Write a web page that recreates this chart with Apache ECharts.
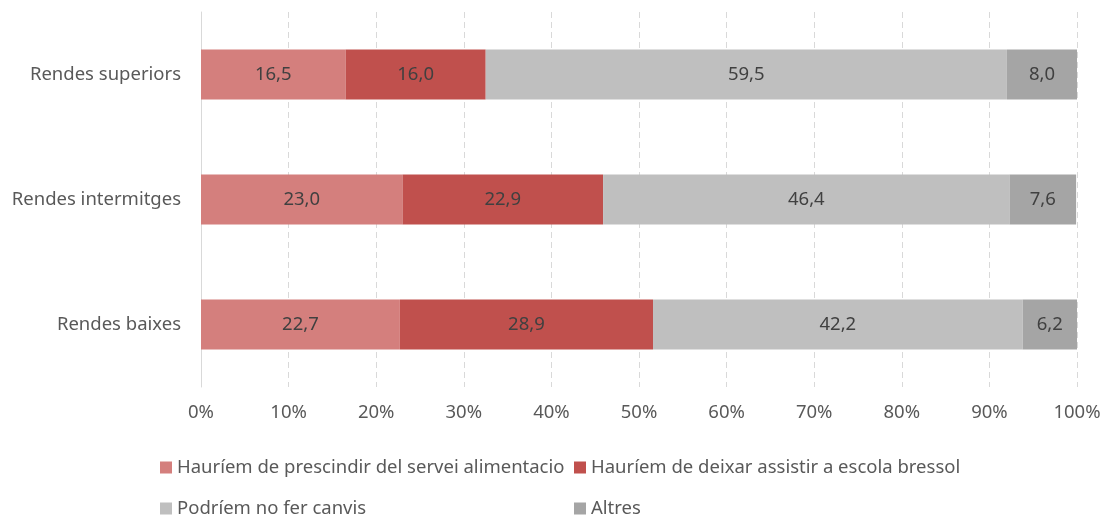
<!DOCTYPE html>
<html>
<head>
<meta charset="utf-8">
<script src="https://cdn.jsdelivr.net/npm/echarts@6/dist/echarts.min.js"></script>
<style>
    html, body { margin: 0; padding: 0; background: #fff; }
    #chart { width: 1104px; height: 515px; }
</style>
</head>
<body>
<div id="chart"></div>
<script>
// categories, bottom to top as ECharts draws a category y axis
const categories = ['Rendes baixes', 'Rendes intermitges', 'Rendes superiors'];
const seriesNames = [
    'Hauríem de prescindir del servei alimentacio',
    'Hauríem de deixar assistir a escola bressol',
    'Podríem no fer canvis',
    'Altres'
];
const prescindir = [22.7, 23.0, 16.5];
const deixar = [28.9, 22.9, 16.0];
const noCanvis = [42.2, 46.4, 59.5];
const altres = [6.2, 7.6, 8.0];
const colors = ['#D47F7D', '#C0504D', '#BFBFBF', '#A5A5A5'];

const font = 'Noto Sans, sans-serif';
const fs = 18.5;
const values = [prescindir, deixar, noCanvis, altres];

const series = values.map((d, i) => ({
    name: seriesNames[i],
    type: 'bar',
    stack: 'total',
    barWidth: '40%',
    itemStyle: { color: colors[i] },
    label: {
        show: true,
        position: 'inside',
        color: '#404040',
        fontFamily: font,
        fontSize: fs,
        formatter: p => p.value.toFixed(1).replace('.', ',')
    },
    emphasis: { disabled: true },
    data: d
}));

// legend laid out in two columns, one legend block per entry
const legendPos = [[155, 453], [569, 453], [155, 494], [569, 494]];
const legends = seriesNames.map((n, i) => ({
    data: [n],
    left: legendPos[i][0],
    top: legendPos[i][1],
    icon: 'rect',
    itemWidth: 12,
    itemHeight: 12,
    itemGap: 6,
    selectedMode: false,
    textStyle: { color: '#595959', fontFamily: font, fontSize: fs }
}));

const chart = echarts.init(document.getElementById('chart'));
chart.setOption({
    animation: false,
    color: colors,
    legend: legends,
    grid: { left: 201, right: 27, top: 12, height: 375 },
    xAxis: {
        type: 'value',
        min: 0,
        max: 100,
        interval: 10,
        axisLine: { show: false },
        axisTick: { show: false },
        axisLabel: {
            color: '#595959',
            fontFamily: font,
            fontSize: fs,
            margin: 16,
            formatter: v => v + '%'
        },
        splitLine: { show: true, lineStyle: { color: '#D9D9D9', type: [6, 4], width: 1 } }
    },
    yAxis: {
        type: 'category',
        data: categories,
        axisLine: { show: true, lineStyle: { color: '#D9D9D9' } },
        axisTick: { show: false },
        axisLabel: { color: '#595959', fontFamily: font, fontSize: fs, margin: 20 }
    },
    series: series
});
</script>
</body>
</html>
